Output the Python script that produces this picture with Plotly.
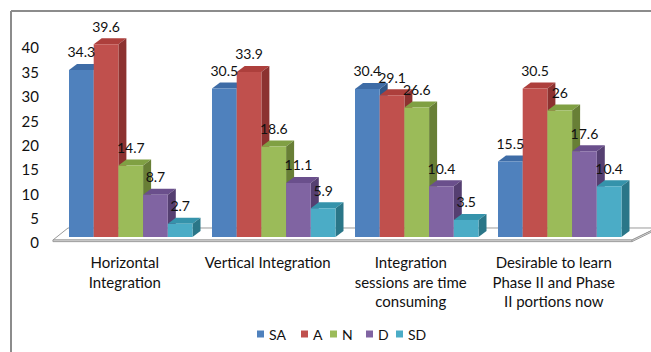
import plotly.graph_objects as go

# ---------------- data ----------------
categories = [
    "Horizontal<br>Integration",
    "Vertical Integration",
    "Integration<br>sessions are time<br>consuming",
    "Desirable to learn<br>Phase II and Phase<br>II portions now",
]
series_names = ["SA", "A", "N", "D", "SD"]
SA = [34.3, 30.5, 30.4, 15.5]
A = [39.6, 33.9, 29.1, 30.5]
N = [14.7, 18.6, 26.6, 26]
D = [8.7, 11.1, 10.4, 17.6]
SD = [2.7, 5.9, 3.5, 10.4]
y_ticks = [0, 5, 10, 15, 20, 25, 30, 35, 40]

series_values = [SA, A, N, D, SD]

front_colors = ["#4F81BD", "#C0504D", "#9BBB59", "#8064A2", "#4BACC6"]
top_colors = ["#3E6CA6", "#AD3F3C", "#80A043", "#6A4F8C", "#3593AB"]
side_colors = ["#2F5687", "#8C3230", "#687F36", "#553F71", "#2A7688"]

# ---------------- geometry (layout) ----------------
W, H = 651, 352
ML, MR, MT, MB = 40, 0, 14, 104
px_x = 24.7          # pixels per bar width (x unit)
px_y = 4.87          # pixels per value unit
x0_px = 69           # pixel of first bar's left edge
y0_px = 237          # pixel of value 0
group_step = 143 / px_x
bar_w = 1.0
dx = 8 / px_x        # depth offset in x units
dy = 6 / px_y        # depth offset in y units

x_range = [(ML - x0_px) / px_x, (W - MR - x0_px) / px_x]
y_range = [(y0_px - (H - MB)) / px_y, (y0_px - MT) / px_y]

plot_w = W - ML - MR
plot_h = H - MT - MB


def px2paper_x(p):
    return (p - ML) / plot_w


def px2paper_y(p):
    return (H - MB - p) / plot_h


fig = go.Figure()
shapes = []

# floor (decoration)
n_groups = len(categories)
fx_left_back = -0.04
fx_left_front = -0.65
fx_right_front = (n_groups - 1) * group_step + 5 * bar_w + dx + 0.1
fx_right_back = fx_right_front + 1.0
fy_back = 1.85
fy_front = -0.62
fy_front2 = -0.95
floor_path = (f"M{fx_left_front},{fy_front} L{fx_left_back},{fy_back} "
              f"L{fx_right_back},{fy_back} L{fx_right_front},{fy_front} Z")
shapes.append(dict(type="path", path=floor_path, xref="x", yref="y",
                   fillcolor="white", line=dict(color="#9A9A9A", width=1),
                   layer="below"))
front_strip = (f"M{fx_left_front},{fy_front} L{fx_right_front},{fy_front} "
               f"L{fx_right_front},{fy_front2} L{fx_left_front},{fy_front2} Z")
shapes.append(dict(type="path", path=front_strip, xref="x", yref="y",
                   fillcolor="#F2F2F2", line=dict(color="#9A9A9A", width=1),
                   layer="below"))
side_strip = (f"M{fx_right_front},{fy_front} L{fx_right_back},{fy_back} "
              f"L{fx_right_back},{fy_back-0.33} L{fx_right_front},{fy_front2} Z")
shapes.append(dict(type="path", path=side_strip, xref="x", yref="y",
                   fillcolor="#E0E0E0", line=dict(color="#9A9A9A", width=1),
                   layer="below"))

# bars
label_off = 16 / px_y
for g in range(n_groups):
    for k, (name, vals) in enumerate(zip(series_names, series_values)):
        v = vals[g]
        xl = g * group_step + k * bar_w
        xr = xl + bar_w
        top = (f"M{xl},{v} L{xl+dx},{v+dy} L{xr+dx},{v+dy} L{xr},{v} Z")
        shapes.append(dict(type="path", path=top, xref="x", yref="y",
                           fillcolor=top_colors[k], line=dict(width=0),
                           layer="below"))
        side = (f"M{xr},0 L{xr+dx},{dy} L{xr+dx},{v+dy} L{xr},{v} Z")
        shapes.append(dict(type="path", path=side, xref="x", yref="y",
                           fillcolor=side_colors[k], line=dict(width=0),
                           layer="below"))

for k, (name, vals) in enumerate(zip(series_names, series_values)):
    xs = [g * group_step + k * bar_w + bar_w / 2 for g in range(n_groups)]
    fig.add_trace(go.Bar(
        x=xs, y=vals, width=bar_w, name=name, showlegend=False,
        marker=dict(color=front_colors[k], line=dict(width=0)),
        hoverinfo="skip",
    ))

for k, (name, vals) in enumerate(zip(series_names, series_values)):
    xs = [g * group_step + k * bar_w + bar_w / 2 for g in range(n_groups)]
    fig.add_trace(go.Scatter(
        x=xs, y=[v + label_off for v in vals], mode="text",
        text=[f"{v:g}" for v in vals], textposition="middle center",
        textfont=dict(family="Lato", size=14, color="#111111"),
        showlegend=False, hoverinfo="skip", cliponaxis=False,
    ))

# chart border (top and left visible)
shapes.append(dict(type="line", xref="paper", yref="paper",
                   x0=px2paper_x(11), x1=px2paper_x(W + 5),
                   y0=px2paper_y(11), y1=px2paper_y(11),
                   line=dict(color="#8C8C8C", width=2)))
shapes.append(dict(type="line", xref="paper", yref="paper",
                   x0=px2paper_x(11), x1=px2paper_x(11),
                   y0=px2paper_y(11), y1=px2paper_y(H + 5),
                   line=dict(color="#8C8C8C", width=2)))

# legend (drawn as squares + text)
legend_sq_px = [257, 301, 330, 366, 396]
legend_y_px = 334
annotations = []
for k, name in enumerate(series_names):
    sx = legend_sq_px[k]
    shapes.append(dict(type="rect", xref="paper", yref="paper",
                       x0=px2paper_x(sx), x1=px2paper_x(sx + 7),
                       y0=px2paper_y(legend_y_px + 3.5), y1=px2paper_y(legend_y_px - 3.5),
                       fillcolor=front_colors[k], line=dict(width=0)))
    annotations.append(dict(xref="paper", yref="paper",
                            x=px2paper_x(sx + 10), y=px2paper_y(legend_y_px),
                            text=name, showarrow=False, xanchor="left",
                            yanchor="middle",
                            font=dict(family="Lato", size=14, color="#111111")))

group_centers = [g * group_step + 2.5 * bar_w for g in range(n_groups)]

fig.update_layout(
    width=W, height=H,
    margin=dict(l=ML, r=MR, t=MT, b=MB),
    paper_bgcolor="white", plot_bgcolor="white",
    barmode="overlay",
    shapes=shapes, annotations=annotations,
    showlegend=False,
    xaxis=dict(range=x_range, showgrid=False, zeroline=False, showline=False,
               tickmode="array", tickvals=group_centers, ticktext=categories,
               ticks="", ticklabelshift=-6, ticklabelstandoff=4,
               tickfont=dict(family="Lato", size=15, color="#111111"),
               fixedrange=True),
    yaxis=dict(range=y_range, showgrid=False, zeroline=False, showline=False,
               tickmode="array", tickvals=y_ticks, ticks="",
               ticklabelshift=6,
               tickfont=dict(family="Lato", size=15, color="#111111"),
               fixedrange=True),
)

fig.write_html("out.html")
